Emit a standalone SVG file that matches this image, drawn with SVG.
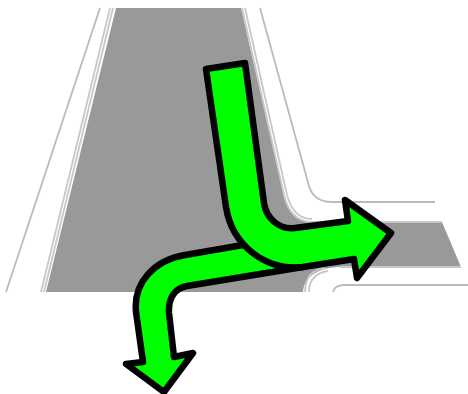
<svg xmlns="http://www.w3.org/2000/svg" width="468" height="394" viewBox="0 0 468 394">
<style>
.road{fill:#999999;stroke:none}
.edge{fill:none;stroke:#c8c8c8;stroke-width:1.8}
.kerb{fill:none;stroke:#bbbbbb;stroke-width:1.8}
.arrow{fill:#00ff00;stroke:#000000;stroke-width:6.5;stroke-linejoin:round}
</style>
<rect width="468" height="394" fill="#ffffff"/>
<g id="road">
<path class="road" d="M116 8H241L283 190C287 208 295 222 312 222H442L461 267H340C322 267 304 275 303 292H46Z"/>
<path class="edge" d="M113 8L44 292"/>
<path class="edge" d="M110 8L41 292"/>
<path class="edge" d="M242 8L284 195C288 212 296 222 312 222H442"/>
<path class="edge" d="M245 8L287 195C291 210 299 219 312 219"/>
<path class="edge" d="M305 292C305 279 311 270 325 268"/>
<path class="edge" d="M309 292C309 281 315 273 328 271"/>
<path class="kerb" d="M100 8L6 292"/>
<path class="kerb" d="M260 8L309 186C312 196 320 202 332 202H435"/>
<path class="kerb" d="M333 292C334 288 338 285 344 285H468"/>
<path class="edge" d="M340 267H461"/>
</g>
<g id="connectors">
<path id="arrow-left" class="arrow" d="M243 245L185 255C155 260 133 282 136 312L143 362L126 364L164 392L193 353L174 357L169 313C168 298 175 288 187 286L303 267Z"/>
<path id="arrow-right" class="arrow" d="M206 69L245 63L264 203C266 218 279 230 295 228L348 221L345 200L391 233L357 278L354 259L303 267C265 271 232 245 226 207Z"/>
</g>
</svg>
